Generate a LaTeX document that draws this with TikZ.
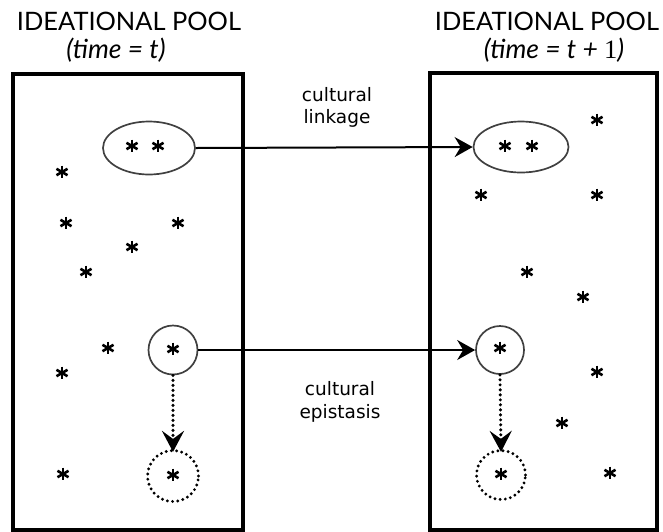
\documentclass[tikz,border=0pt]{standalone}
\usepackage{fontspec}
\setmainfont{Lato}
\newfontfamily\labelfont{DejaVu Sans}
\usetikzlibrary{arrows.meta,shapes.geometric}
\tikzset{
  starnode/.style={circle, inner sep=0pt, minimum size=15pt,
    path picture={\foreach \a in {90,30,150}{\draw[line width=2.6pt] (path picture bounding box.center) ++(\a:6.4pt) -- ++(\a+180:12.8pt);}}},
  pool/.style={draw, line width=3.4pt, rectangle, inner sep=0pt},
  group/.style={draw=black!75, line width=1.7pt, ellipse, inner sep=0pt},
  ghost/.style={draw, line width=3.2pt, circle, inner sep=0pt, line cap=round, dash pattern=on 0pt off 5.2pt},
  link/.style={line width=2pt, -{Stealth[length=18pt, width=20pt, inset=6pt]}},
  dotarrow/.style={line width=3.4pt, line cap=round, dash pattern=on 0pt off 5pt, -{Stealth[length=21pt, width=22pt, inset=8pt, line cap=butt, sep=-3pt]}},
  title/.style={font=\fontsize{25.4}{30}\selectfont, anchor=base},
  sub/.style={font=\fontsize{26.5}{30}\itshape, anchor=base},
  lbl/.style={font=\labelfont\fontsize{18.5}{22}\selectfont, align=center, anchor=base}
}
\begin{document}
\begin{tikzpicture}[x=1pt, y=-1pt]
\useasboundingbox (0,0) rectangle (663,531);
% pools
\node[pool, minimum width=230pt, minimum height=456pt] (lbox) at (128,302) {};
\node[pool, minimum width=227pt, minimum height=457pt] (rbox) at (543.5,301.5) {};
% titles
\node[title] (lt) at (129,30) {IDEATIONAL POOL};
\node[sub] (ls) at (116,58) {(time = t)};
\node[title] (rt) at (547,30) {IDEATIONAL POOL};
\node[sub] (rs) at (554,58) {(time = t + {\upshape\rmfamily\fontspec{Liberation Serif}1})};
% labels
\node[lbl] (l1t) at (337,101) {cultural};
\node[lbl] (l1b) at (337,123) {linkage};
\node[lbl] (l2t) at (340,395) {cultural};
\node[lbl] (l2b) at (340,418) {epistasis};
% left pool
\node[group, minimum width=92pt, minimum height=53pt] (le) at (149,148) {};
\node[starnode] (la) at (132,146) {};
\node[starnode] (lb) at (158,146) {};
\node[group, circle, minimum size=49pt] (lc) at (173,350) {};
\node[starnode] (lcs) at (173,349) {};
\node[ghost, minimum size=51pt] (ld) at (173,476) {};
\node[starnode] (lds) at (173,475) {};
\node[starnode] (l1) at (62,172) {};
\node[starnode] (l2) at (66,223) {};
\node[starnode] (l3) at (178,223) {};
\node[starnode] (l4) at (132,247) {};
\node[starnode] (l5) at (86,272) {};
\node[starnode] (l6) at (108,348) {};
\node[starnode] (l7) at (62,373) {};
\node[starnode] (l8) at (63,474) {};
% right pool
\node[group, minimum width=95pt, minimum height=51pt] (re) at (521,147) {};
\node[starnode] (ra) at (505,146) {};
\node[starnode] (rb) at (532,146) {};
\node[group, circle, minimum size=48pt] (rc) at (500,350) {};
\node[starnode] (rcs) at (500,348) {};
\node[ghost, minimum size=49pt] (rd) at (501,475) {};
\node[starnode] (rds) at (501,474) {};
\node[starnode] (r1) at (597,120) {};
\node[starnode] (r2) at (481,195) {};
\node[starnode] (r3) at (597,195) {};
\node[starnode] (r4) at (527,272) {};
\node[starnode] (r5) at (583,297) {};
\node[starnode] (r6) at (597,372) {};
\node[starnode] (r7) at (562,423) {};
\node[starnode] (r8) at (610,473) {};
% connectors
\draw[link] (le.east) -- (re.west);
\draw[link] (lc.east) -- (rc.west);
\draw[dotarrow] (lc.south) -- (ld.north);
\draw[dotarrow] (rc.south) -- (rd.north);
\end{tikzpicture}
\end{document}
